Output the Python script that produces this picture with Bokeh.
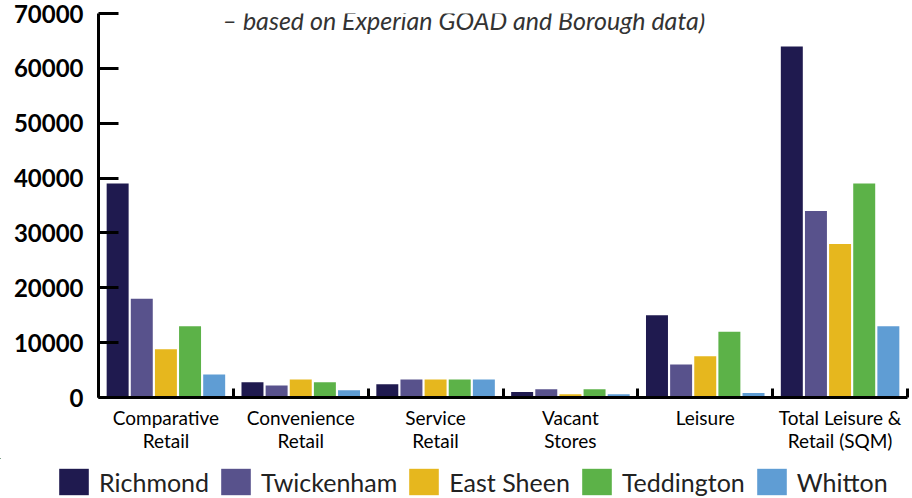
from bokeh.plotting import figure
from bokeh.models import ColumnDataSource, Range1d, FixedTicker, Legend, LegendItem, Label
from bokeh.layouts import column
from bokeh.embed import file_html
from bokeh.resources import INLINE

categories = ["Comparative\nRetail", "Convenience\nRetail", "Service\nRetail",
              "Vacant\nStores", "Leisure", "Total Leisure &\nRetail (SQM)"]
towns = ["Richmond", "Twickenham", "East Sheen", "Teddington", "Whitton"]
richmond = [39000, 2800, 2400, 1000, 15000, 64000]
twickenham = [18000, 2200, 3300, 1500, 6000, 34000]
east_sheen = [8800, 3300, 3300, 600, 7500, 28000]
teddington = [13000, 2800, 3300, 1500, 12000, 39000]
whitton = [4200, 1300, 3300, 600, 800, 13000]
series = [richmond, twickenham, east_sheen, teddington, whitton]
colors = ["#1f1a4f", "#58528c", "#e6b71e", "#5cb248", "#5f9dd4"]
y_ticks = [0, 10000, 20000, 30000, 40000, 50000, 60000, 70000]
subtitle = "\u2013 based on Experian GOAD and Borough data)"

FONT = "Lato"
n = len(categories)
pitch = 0.179
bar_w = 0.163

p = figure(width=912, height=458, output_backend="svg", toolbar_location=None,
           x_range=Range1d(0, n), y_range=Range1d(0, 70000),
           min_border_left=98, min_border_right=5, min_border_top=13, min_border_bottom=61)
p.outline_line_color = None
p.xgrid.visible = False
p.ygrid.visible = False
p.background_fill_color = "white"
p.border_fill_color = "white"

# legend strip (shares the same series; its bars sit far outside its own ranges)
leg = figure(width=912, height=40, output_backend="svg", toolbar_location=None,
             x_range=Range1d(1000, 1001), y_range=Range1d(-200000, -100000),
             min_border_left=0, min_border_right=0, min_border_top=0, min_border_bottom=0)
leg.axis.visible = False
leg.grid.visible = False
leg.outline_line_color = None
frame_aligned = True
for fig in (p, leg):
    if "frame_align" in fig.properties():
        fig.frame_align = False
        frame_aligned = False

items = []
for j, (name, vals, col) in enumerate(zip(towns, series, colors)):
    xs = [i + 0.5 + (j - 2) * pitch for i in range(n)]
    src = ColumnDataSource(dict(x=xs, top=vals))
    p.vbar(x="x", top="top", width=bar_w, bottom=0, source=src,
           fill_color=col, line_color=None)
    r2 = leg.vbar(x="x", top="top", width=bar_w, bottom=0, source=src,
                  fill_color=col, line_color=None)
    items.append(LegendItem(label=name, renderers=[r2]))

# y axis
ya = p.yaxis[0]
ya.ticker = FixedTicker(ticks=y_ticks, minor_ticks=[])
ya.axis_line_width = 3
ya.axis_line_color = "black"
ya.major_tick_in = 20
ya.major_tick_out = 0
ya.major_tick_line_width = 3
ya.major_tick_line_color = "black"
ya.minor_tick_line_color = None
ya.major_label_text_font = FONT
ya.major_label_text_font_style = "bold"
ya.major_label_text_font_size = "24px"
ya.major_label_text_color = "black"
ya.major_label_standoff = 15
ya.formatter.use_scientific = False

# x axis
xa = p.xaxis[0]
centers = [i + 0.5 for i in range(n)]
bounds = [float(i) for i in range(n + 1)]
xa.ticker = FixedTicker(ticks=centers, minor_ticks=bounds)
xa.major_label_overrides = {c: lab for c, lab in zip(centers, categories)}
xa.axis_line_width = 3
xa.axis_line_color = "black"
xa.major_tick_line_color = None
xa.minor_tick_in = 9
xa.minor_tick_out = 0
xa.minor_tick_line_width = 3
xa.minor_tick_line_color = "black"
xa.major_label_text_font = FONT
xa.major_label_text_font_size = "19px"
xa.major_label_text_line_height = 1.0
xa.major_label_text_color = "black"
xa.major_label_standoff = 2

lab = Label(x=2.71, y=68900, text=subtitle, text_align="center", text_baseline="middle",
            text_font=FONT, text_font_style="italic", text_font_size="25px",
            text_color="#333333")
p.add_layout(lab)

legend = Legend(items=items, orientation="horizontal",
                location=(-43, 0) if frame_aligned else (55, 0),
                glyph_width=37, glyph_height=33, label_text_font=FONT,
                label_text_font_size="25px", label_text_color="#222222",
                label_standoff=7, spacing=8, padding=0, margin=0,
                border_line_color=None, background_fill_alpha=0)
leg.add_layout(legend)

layout = column(p, leg, spacing=0)
open("out.html", "w").write(file_html(layout, INLINE))
